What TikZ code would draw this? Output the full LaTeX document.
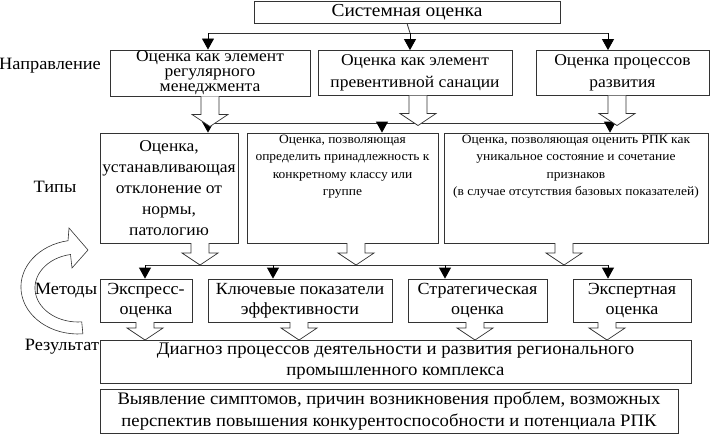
\documentclass[tikz,border=0pt]{standalone}
\usepackage{fontspec}
\setmainfont{Liberation Serif}[FakeStretch=1.06]
\usetikzlibrary{arrows.meta}
\tikzset{
  box/.style={draw=black!80, line width=0.8pt, align=center, inner sep=1pt},
  big/.style={font=\fontsize{17}{20}\selectfont},
  small/.style={font=\fontsize{12.7}{17.5}\selectfont},
  lab/.style={font=\fontsize{17.3}{20}\selectfont},
  tri/.style={-{Triangle[width=12pt,length=11pt]}, line width=0.8pt, draw=black},
  pics/hollow/.style={code={
    \draw[line width=0.7pt, draw=black!80, fill=white]
      (-9,0) -- (-9,#1) -- (-18,#1) -- (0,#1+12) -- (18,#1) -- (9,#1) -- (9,0);}}
}
\begin{document}
\begin{tikzpicture}[x=1pt, y=-1pt]
\useasboundingbox (0,0) rectangle (710,434);

% top
\node[box, minimum width=306, minimum height=22, font=\fontsize{18.3}{20}\selectfont] (sys) at (407,12) {Системная оценка};

% directions
\node[lab] (lnapr) at (50,66) {Направление};
\node[box, minimum width=200, minimum height=45, font=\fontsize{16.5}{15}\selectfont] (dir1) at (210,73) {Оценка как элемент\\регулярного\\менеджмента};
\node[box, minimum width=194, minimum height=45, font=\fontsize{16.5}{22}\selectfont] (dir2) at (415,73) {Оценка как элемент\\превентивной санации};
\node[box, minimum width=173, minimum height=45, font=\fontsize{16.5}{22}\selectfont] (dir3) at (622.5,73) {Оценка процессов\\развития};

\coordinate (j1) at (410,33);
\coordinate (a1) at (208,33);
\coordinate (a3) at (608,33);
\draw[line width=0.8pt, draw=black!80] (sys.south) -- (j1);
\draw[line width=0.8pt, draw=black!80] (a1) -- (a3);
\draw[tri] (a1) -- (a1 |- dir1.north);
\draw[tri] (j1) -- (j1 |- dir2.north);
\draw[tri] (a3) -- (a3 |- dir3.north);

% types
\node[lab] (ltyp) at (55,187) {Типы};
\node[box, minimum width=138, minimum height=110, font=\fontsize{16.5}{21}\selectfont] (typ1) at (169,188) {Оценка,\\устанавливающая\\отклонение от\\нормы,\\патологию};
\node[box, minimum width=191, minimum height=110] (typ2) at (342.5,188) {};
\node[small, anchor=north, align=center, inner sep=1pt] (typ2t) at ([yshift=-1pt]typ2.north) {Оценка, позволяющая\\определить принадлежность к\\конкретному классу или\\группе};
\node[box, minimum width=264, minimum height=110] (typ3) at (576,188) {};
\node[small, anchor=north, align=center, inner sep=1pt] (typ3t) at ([yshift=-1pt]typ3.north) {Оценка, позволяющая оценить РПК как\\уникальное состояние и сочетание\\признаков\\(в случае отсутствия базовых показателей)};

\coordinate (b1) at (208,123);
\coordinate (b2) at (382,123);
\coordinate (b3) at (610,123);
\draw[line width=0.8pt, draw=black!80] (b1) -- (b3);
\draw[tri] (b1) -- (b1 |- typ1.north);
\draw[tri] (b2) -- (b2 |- typ2.north);
\draw[tri] (b3) -- (b3 |- typ3.north);
\pic at (dir1.south) {hollow=18};
\pic at (418,95.5) {hollow=18};
\pic at (617,95.5) {hollow=18};

% methods
\draw[line width=0.6pt, draw=black!80, fill=white] (82.9,333.8)
  arc[start angle=85, end angle=260, x radius=57, y radius=47]
  -- (69,228) -- (88,250) -- (72,268) -- (70.5,254.5)
  arc[start angle=260, end angle=85, x radius=43, y radius=34] -- cycle;
\node[lab] (lmet) at (66,291) {Методы};
\node[box, big, minimum width=92, minimum height=43] (met1) at (146,300.5) {Экспресс-\\оценка};
\node[box, big, minimum width=184, minimum height=43] (met2) at (300,300.5) {Ключевые показатели\\эффективности};
\node[box, big, minimum width=139, minimum height=43] (met3) at (477.5,300.5) {Стратегическая\\оценка};
\node[box, big, minimum width=118, minimum height=43] (met4) at (632,300.5) {Экспертная\\оценка};

\coordinate (c1) at (145,265);
\coordinate (c2) at (273,265);
\coordinate (c3) at (445,265);
\coordinate (c4) at (608,265);
\draw[line width=0.8pt, draw=black!80] (c1) -- (c4);
\draw[tri] (c1) -- (c1 |- met1.north);
\draw[tri] (c2) -- (c2 |- met2.north);
\draw[tri] (c3) -- (c3 |- met3.north);
\draw[tri] (c4) -- (c4 |- met4.north);
\pic at (200,243) {hollow=10};
\pic at (356,243) {hollow=10};
\pic at (564,243) {hollow=10};

% results
\node[lab] (lres) at (62,347) {Результат};
\node[box, minimum width=591, minimum height=43, font=\fontsize{17.7}{21}\selectfont] (diag) at (395.5,361.5) {Диагноз процессов деятельности и развития регионального\\промышленного комплекса};
\node[box, minimum width=578, minimum height=44, font=\fontsize{17.6}{22}\selectfont] (res) at (389,411) {Выявление симптомов, причин возникновения проблем, возможных\\перспектив повышения конкурентоспособности и потенциала РПК};
\pic at (145,322) {hollow=6};
\pic at (299,322) {hollow=6};
\pic at (475,322) {hollow=6};
\pic at (607,322) {hollow=6};
\end{tikzpicture}
\end{document}
